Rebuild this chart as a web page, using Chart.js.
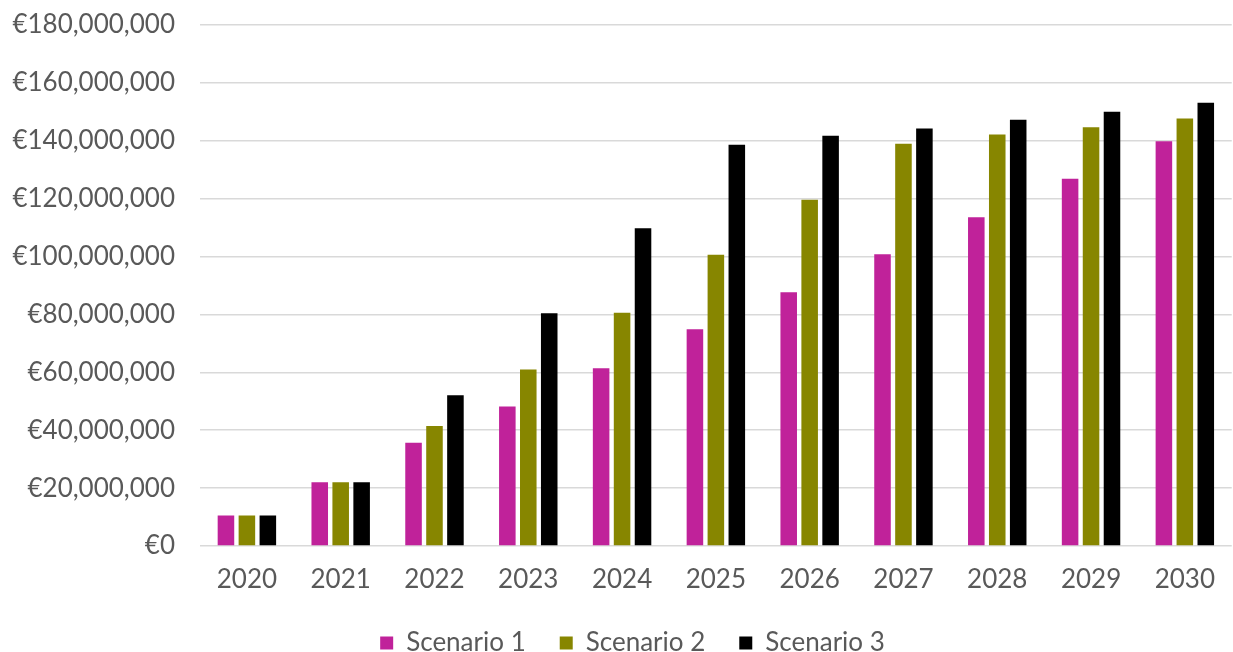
<!DOCTYPE html>
<html>
<head>
<meta charset="utf-8">
<script src="https://cdn.jsdelivr.net/npm/chart.js@4/dist/chart.umd.min.js"></script>
<style>
html,body{margin:0;padding:0;background:#fff;}
canvas{display:block;}
</style>
</head>
<body>
<canvas id="c" width="1233" height="652"></canvas>
<script>
const categories = ['2020','2021','2022','2023','2024','2025','2026','2027','2028','2029','2030'];
const seriesNames = ['Scenario 1','Scenario 2','Scenario 3'];
const scenario1 = [10500000, 22000000, 35700000, 48200000, 61400000, 74900000, 87700000, 100800000, 113600000, 126900000, 139800000];
const scenario2 = [10500000, 22000000, 41500000, 61000000, 80600000, 100600000, 119600000, 139000000, 142200000, 144700000, 147700000];
const scenario3 = [10500000, 22000000, 52100000, 80400000, 109800000, 138600000, 141700000, 144200000, 147300000, 150000000, 153100000];
const yTicks = [0, 20000000, 40000000, 60000000, 80000000, 100000000, 120000000, 140000000, 160000000, 180000000];

const colors = ['#C0229A', '#878600', '#000000'];
const textColor = '#595959';
const fontFamily = 'Lato, "Open Sans", sans-serif';
const fontSize = 26;

const legendTweak = {
  id: 'legendTweak',
  beforeInit(chart) {
    const lg = chart.legend;
    const origFit = lg.fit;
    lg.fit = function () {
      origFit.call(this);
      this.height -= 14;
    };
    const origDraw = lg.draw;
    lg.draw = function (...args) {
      const ctx = this.ctx;
      ctx.save();
      ctx.translate(16, 0);
      origDraw.apply(this, args);
      ctx.restore();
    };
  }
};

new Chart(document.getElementById('c'), {
  type: 'bar',
  data: {
    labels: categories,
    datasets: [scenario1, scenario2, scenario3].map((d, i) => ({
      label: seriesNames[i],
      data: d,
      backgroundColor: colors[i],
      borderWidth: 0,
      categoryPercentage: 0.67,
      barPercentage: 0.79
    }))
  },
  plugins: [legendTweak],
  options: {
    responsive: false,
    animation: false,
    layout: { padding: { top: 25, right: 0, left: 0, bottom: 0 } },
    plugins: {
      legend: {
        position: 'bottom',
        labels: {
          color: textColor,
          font: { family: fontFamily, size: fontSize },
          boxWidth: 13,
          boxHeight: 13,
          padding: 34
        }
      },
      tooltip: { enabled: false }
    },
    scales: {
      x: {
        afterFit: (scale) => { scale.height = 50; },
        grid: { display: false, drawTicks: false },
        border: { display: false },
        ticks: {
          color: textColor,
          font: { family: fontFamily, size: fontSize },
          padding: 18,
          maxRotation: 0
        }
      },
      y: {
        min: 0,
        max: 180000000,
        afterFit: (scale) => { scale.width = 200; scale.paddingTop = 0; scale.paddingBottom = 0; },
        afterBuildTicks: (scale) => { scale.ticks = yTicks.map(v => ({ value: v })); },
        grid: { color: '#d9d9d9', lineWidth: 1.6, drawTicks: false },
        border: { display: false },
        ticks: {
          color: textColor,
          font: { family: fontFamily, size: fontSize },
          padding: 25,
          callback: (v) => '€' + Number(v).toLocaleString('en-US')
        }
      }
    }
  }
});
</script>
</body>
</html>
